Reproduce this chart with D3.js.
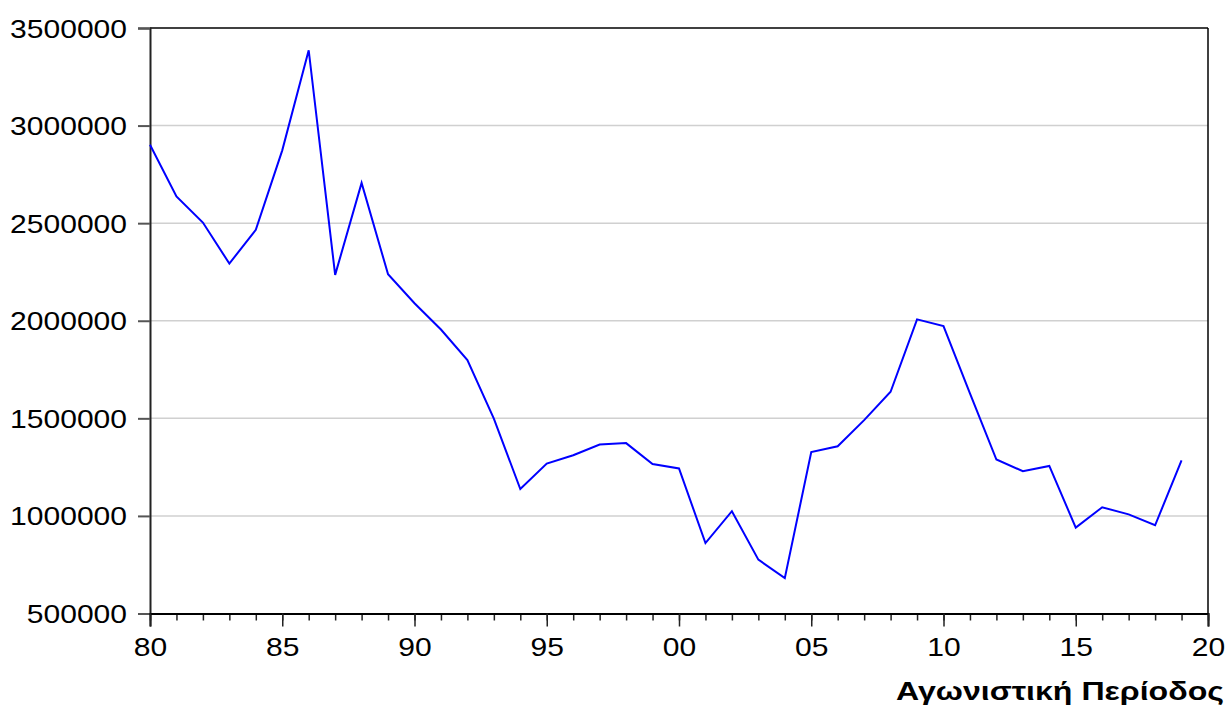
<!DOCTYPE html>
<html>
<head>
<meta charset="utf-8">
<script src="https://cdn.jsdelivr.net/npm/d3@7"></script>
<style>
  html, body { margin: 0; padding: 0; background: #fff; }
  svg { display: block; }
  text { font-family: "Liberation Sans", Arial, sans-serif; fill: #000; }
</style>
</head>
<body>
<svg id="chart" width="1228" height="711"></svg>
<script>
// ---- data ----
const years = [1980,1981,1982,1983,1984,1985,1986,1987,1988,1989,
               1990,1991,1992,1993,1994,1995,1996,1997,1998,1999,
               2000,2001,2002,2003,2004,2005,2006,2007,2008,2009,
               2010,2011,2012,2013,2014,2015,2016,2017,2018,2019];
const values = [2902000,2637000,2503000,2293000,2466000,2873000,3386000,2235000,2706000,2238000,
                2090000,1955000,1799000,1499000,1138000,1268000,1311000,1366000,1373000,1266000,
                1243000, 861000,1024000, 776000, 681000,1327000,1357000,1491000,1636000,2007000,
                1973000,1628000,1289000,1229000,1256000, 940000,1044000,1008000, 952000,1284000];
const xTickYears = [1980,1985,1990,1995,2000,2005,2010,2015,2020];
const xTickLabels = ["80","85","90","95","00","05","10","15","20"];
const yTicks = [500000,1000000,1500000,2000000,2500000,3000000,3500000];
const xTitle = "Αγωνιστική Περίοδος";

// ---- layout ----
const L = 150, R = 1208, T = 28, B = 613.5;
const svg = d3.select("#chart");
const x = d3.scaleLinear().domain([1980, 2020]).range([L, R]);
const y = d3.scaleLinear().domain([500000, 3500000]).range([B, T]);

// gridlines
svg.append("g").selectAll("line")
  .data(yTicks.filter(v => v > 500000 && v < 3500000))
  .join("line")
  .attr("x1", L).attr("x2", R)
  .attr("y1", d => y(d)).attr("y2", d => y(d))
  .attr("stroke", "#d0d0d0").attr("stroke-width", 1.5);

// frame (top and right)
svg.append("line").attr("x1", L).attr("x2", R).attr("y1", T).attr("y2", T)
  .attr("stroke", "#000").attr("stroke-width", 1.5);
svg.append("line").attr("x1", R).attr("x2", R).attr("y1", T).attr("y2", B)
  .attr("stroke", "#000").attr("stroke-width", 1.5);

// y axis
const yAxis = svg.append("g").attr("transform", `translate(${L},0)`)
  .call(d3.axisLeft(y).tickValues(yTicks).tickSize(12).tickPadding(11).tickFormat(d3.format("d")));
yAxis.select(".domain").attr("stroke", "#222").attr("stroke-width", 2);
yAxis.selectAll(".tick line").attr("stroke", "#555").attr("stroke-width", 2);
yAxis.selectAll(".tick text")
  .style("font-size", "25px")
  .attr("dy", "0.36em")
  .attr("textLength", d => String(d).length * 16.7)
  .attr("lengthAdjust", "spacingAndGlyphs");

// x axis minor ticks
const xAxisMinor = svg.append("g").attr("transform", `translate(0,${B})`)
  .call(d3.axisBottom(x).tickValues(years.concat([2020])).tickSize(7).tickFormat(""));
xAxisMinor.select(".domain").remove();
xAxisMinor.selectAll(".tick line").attr("stroke", "#222").attr("stroke-width", 1.5);

// x axis major
const xAxis = svg.append("g").attr("transform", `translate(0,${B})`)
  .call(d3.axisBottom(x).tickValues(xTickYears).tickSize(13).tickPadding(9)
        .tickFormat((d, i) => xTickLabels[i]));
xAxis.select(".domain").attr("stroke", "#000").attr("stroke-width", 2);
xAxis.selectAll(".tick line").attr("stroke", "#222").attr("stroke-width", 1.5);
xAxis.selectAll(".tick text")
  .style("font-size", "25px")
  .attr("dy", "0.82em")
  .attr("textLength", (d, i) => xTickLabels[i].length * 16.7)
  .attr("lengthAdjust", "spacingAndGlyphs");

// line
const line = d3.line().x((d, i) => x(years[i])).y(d => y(d));
svg.append("path").datum(values)
  .attr("d", line)
  .attr("fill", "none")
  .attr("stroke", "#0000ff")
  .attr("stroke-width", 2)
  .attr("stroke-linejoin", "miter");

// x title
svg.append("text")
  .attr("x", 1224).attr("y", 700)
  .attr("text-anchor", "end")
  .style("font-size", "25px").style("font-weight", "bold")
  .attr("textLength", 328).attr("lengthAdjust", "spacingAndGlyphs")
  .text(xTitle);
</script>
</body>
</html>
